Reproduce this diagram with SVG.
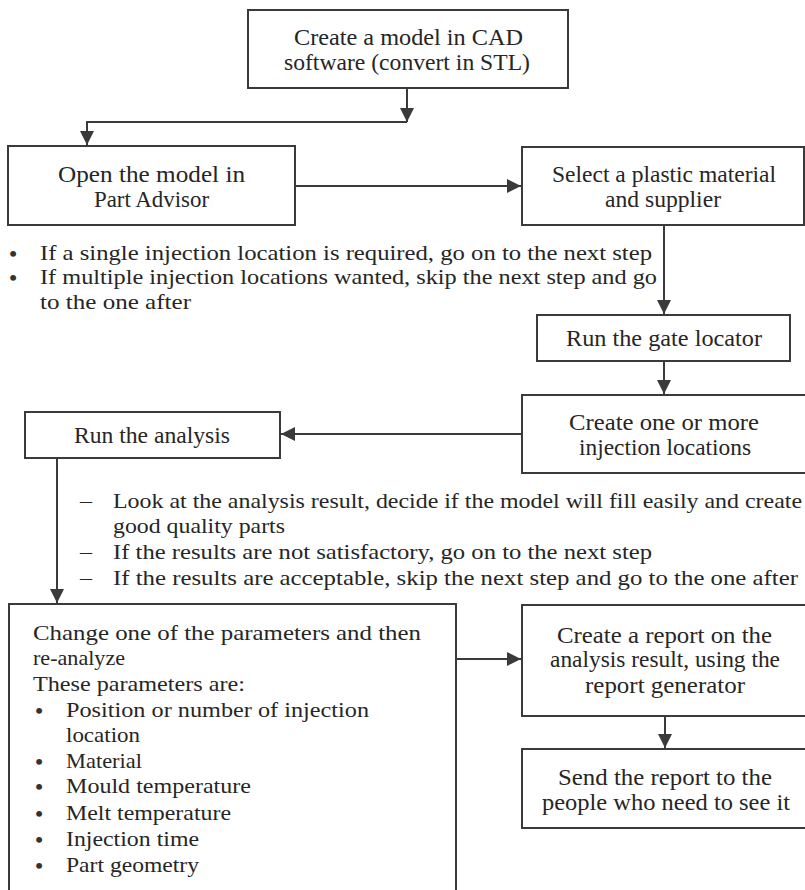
<svg xmlns="http://www.w3.org/2000/svg" width="805" height="890" viewBox="0 0 805 890">
<style>
.box{fill:#fff;stroke:#3a3a3a;stroke-width:2}
.t{font-family:"Liberation Serif","Times New Roman",serif;font-size:23px;fill:#262626}
.f{font-family:"Liberation Serif","Times New Roman",serif;font-size:22px;fill:#262626}
.b{font-family:"Liberation Serif","Times New Roman",serif;font-size:22px;font-weight:bold;fill:#333;text-anchor:middle}
.c{fill:none;stroke:#3a3a3a;stroke-width:2}
</style>
<defs>
<marker id="ah" markerUnits="userSpaceOnUse" markerWidth="16" markerHeight="16" viewBox="0 0 16 16" refX="15" refY="8" orient="auto">
<path d="M1,1 L15,8 L1,15 Z" fill="#3a3a3a"/>
</marker>
</defs>
<rect width="805" height="890" fill="#fff"/>

<g id="connectors">
<path class="c" d="M407,88 V122" marker-end="url(#ah)"/>
<path class="c" d="M407,122 H87 V145" marker-end="url(#ah)"/>
<path class="c" d="M295,186 H521" marker-end="url(#ah)"/>
<path class="c" d="M664,225 V314" marker-end="url(#ah)"/>
<path class="c" d="M664,361 V394" marker-end="url(#ah)"/>
<path class="c" d="M522,434 H281" marker-end="url(#ah)"/>
<path class="c" d="M57,458 V603" marker-end="url(#ah)"/>
<path class="c" d="M456,659 H521" marker-end="url(#ah)"/>
<path class="c" d="M665,716 V748" marker-end="url(#ah)"/>
</g>

<g id="node-cad">
<rect class="box" x="248" y="10" width="320" height="78"/>
<text class="t" x="294" y="45" textLength="229" lengthAdjust="spacingAndGlyphs">Create a model in CAD</text>
<text class="t" x="284" y="70" textLength="246" lengthAdjust="spacingAndGlyphs">software (convert in STL)</text>
</g>

<g id="node-open">
<rect class="box" x="8" y="146" width="287" height="79"/>
<text class="t" x="58" y="182" textLength="187" lengthAdjust="spacingAndGlyphs">Open the model in</text>
<text class="t" x="94" y="207" textLength="115" lengthAdjust="spacingAndGlyphs">Part Advisor</text>
</g>

<g id="node-select">
<rect class="box" x="522" y="147" width="282" height="78"/>
<text class="t" x="552" y="182" textLength="224" lengthAdjust="spacingAndGlyphs">Select a plastic material</text>
<text class="t" x="605" y="207" textLength="116" lengthAdjust="spacingAndGlyphs">and supplier</text>
</g>

<g id="note-injection">
<text class="b" x="13" y="261">•</text>
<text class="f" x="40" y="260" textLength="612" lengthAdjust="spacingAndGlyphs">If a single injection location is required, go on to the next step</text>
<text class="b" x="13" y="285">•</text>
<text class="f" x="40" y="284" textLength="617" lengthAdjust="spacingAndGlyphs">If multiple injection locations wanted, skip the next step and go</text>
<text class="f" x="40" y="309" textLength="151" lengthAdjust="spacingAndGlyphs">to the one after</text>
</g>

<g id="node-gate">
<rect class="box" x="537" y="315" width="253" height="46"/>
<text class="t" x="566" y="346" textLength="196" lengthAdjust="spacingAndGlyphs">Run the gate locator</text>
</g>

<g id="node-locations">
<rect class="box" x="522" y="395" width="290" height="78"/>
<text class="t" x="569" y="430" textLength="190" lengthAdjust="spacingAndGlyphs">Create one or more</text>
<text class="t" x="579" y="455" textLength="172" lengthAdjust="spacingAndGlyphs">injection locations</text>
</g>

<g id="node-analysis">
<rect class="box" x="25" y="412" width="255" height="46"/>
<text class="t" x="74" y="443" textLength="156" lengthAdjust="spacingAndGlyphs">Run the analysis</text>
</g>

<g id="note-results">
<text class="f" x="80" y="508" textLength="12" lengthAdjust="spacingAndGlyphs">–</text>
<text class="f" x="113" y="508" textLength="689" lengthAdjust="spacingAndGlyphs">Look at the analysis result, decide if the model will fill easily and create</text>
<text class="f" x="113" y="533" textLength="172" lengthAdjust="spacingAndGlyphs">good quality parts</text>
<text class="f" x="80" y="559" textLength="12" lengthAdjust="spacingAndGlyphs">–</text>
<text class="f" x="113" y="559" textLength="539" lengthAdjust="spacingAndGlyphs">If the results are not satisfactory, go on to the next step</text>
<text class="f" x="80" y="585" textLength="12" lengthAdjust="spacingAndGlyphs">–</text>
<text class="f" x="113" y="585" textLength="685" lengthAdjust="spacingAndGlyphs">If the results are acceptable, skip the next step and go to the one after</text>
</g>

<g id="node-change">
<rect class="box" x="9" y="604" width="447" height="300"/>
<text class="f" x="33" y="640" textLength="388" lengthAdjust="spacingAndGlyphs">Change one of the parameters and then</text>
<text class="f" x="33" y="665" textLength="92" lengthAdjust="spacingAndGlyphs">re-analyze</text>
<text class="f" x="33" y="691" textLength="212" lengthAdjust="spacingAndGlyphs">These parameters are:</text>
<text class="b" x="39" y="718">•</text>
<text class="f" x="66" y="717" textLength="303" lengthAdjust="spacingAndGlyphs">Position or number of injection</text>
<text class="f" x="66" y="742" textLength="74" lengthAdjust="spacingAndGlyphs">location</text>
<text class="b" x="39" y="769">•</text>
<text class="f" x="66" y="768" textLength="76" lengthAdjust="spacingAndGlyphs">Material</text>
<text class="b" x="39" y="794">•</text>
<text class="f" x="66" y="793" textLength="185" lengthAdjust="spacingAndGlyphs">Mould temperature</text>
<text class="b" x="39" y="821">•</text>
<text class="f" x="66" y="820" textLength="165" lengthAdjust="spacingAndGlyphs">Melt temperature</text>
<text class="b" x="39" y="847">•</text>
<text class="f" x="66" y="846" textLength="133" lengthAdjust="spacingAndGlyphs">Injection time</text>
<text class="b" x="39" y="873">•</text>
<text class="f" x="66" y="872" textLength="133" lengthAdjust="spacingAndGlyphs">Part geometry</text>
</g>

<g id="node-report">
<rect class="box" x="522" y="605" width="290" height="111"/>
<text class="t" x="557" y="643" textLength="215" lengthAdjust="spacingAndGlyphs">Create a report on the</text>
<text class="t" x="550" y="667" textLength="230" lengthAdjust="spacingAndGlyphs">analysis result, using the</text>
<text class="t" x="585" y="693" textLength="160" lengthAdjust="spacingAndGlyphs">report generator</text>
</g>

<g id="node-send">
<rect class="box" x="522" y="749" width="290" height="79"/>
<text class="t" x="558" y="785" textLength="214" lengthAdjust="spacingAndGlyphs">Send the report to the</text>
<text class="t" x="542" y="810" textLength="248" lengthAdjust="spacingAndGlyphs">people who need to see it</text>
</g>
</svg>
